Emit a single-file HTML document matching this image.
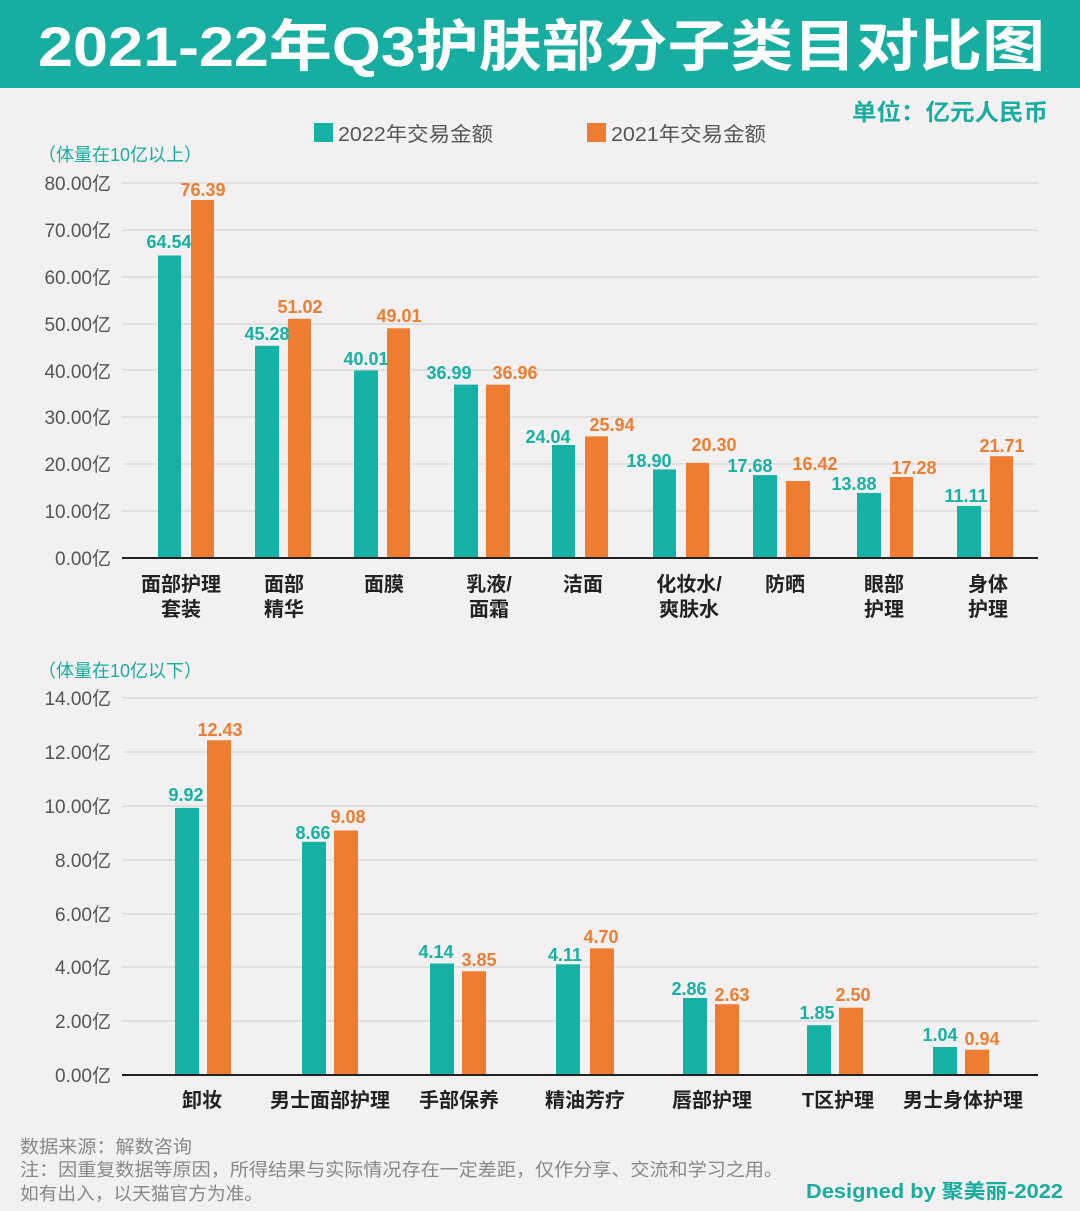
<!DOCTYPE html>
<html><head><meta charset="utf-8"><style>
body{margin:0;background:#f2f0f0;}
svg{display:block;font-family:"Liberation Sans","Noto Sans CJK SC",sans-serif;}
</style></head><body>
<svg width="1080" height="1211" viewBox="0 0 1080 1211" xmlns="http://www.w3.org/2000/svg">
<rect width="1080" height="1211" fill="#f2f0f0"/>
<rect width="1080" height="88" fill="#17ada0"/>
<text x="38" y="66" font-size="56" font-weight="bold" fill="#fff" textLength="1007" lengthAdjust="spacingAndGlyphs">2021-22年Q3护肤部分子类目对比图</text>
<text x="852" y="120" font-size="23" font-weight="bold" fill="#17ada0" textLength="196" lengthAdjust="spacingAndGlyphs">单位：亿元人民币</text>
<rect x="314" y="123" width="19" height="19" fill="#14b1a4"/>
<text x="338" y="141" font-size="20" fill="#555" textLength="155" lengthAdjust="spacingAndGlyphs">2022年交易金额</text>
<rect x="587" y="123" width="19" height="19" fill="#ee7d31"/>
<text x="611" y="141" font-size="20" fill="#555" textLength="155" lengthAdjust="spacingAndGlyphs">2021年交易金额</text>
<text x="38" y="161" font-size="18" fill="#17ada0">（体量在10亿以上）</text>
<text x="38" y="677" font-size="18" fill="#17ada0">（体量在10亿以下）</text>
<g font-size="19" fill="#555" text-anchor="end">
<text x="111" y="190">80.00亿</text><text x="111" y="237">70.00亿</text><text x="111" y="284">60.00亿</text><text x="111" y="331">50.00亿</text><text x="111" y="378">40.00亿</text><text x="111" y="424">30.00亿</text><text x="111" y="471">20.00亿</text><text x="111" y="518">10.00亿</text><text x="111" y="565">0.00亿</text>
</g>
<g stroke="#d0d0d0" stroke-width="1">
<line x1="122" x2="1038" y1="183" y2="183"/><line x1="122" x2="1038" y1="230" y2="230"/><line x1="122" x2="1038" y1="277" y2="277"/><line x1="122" x2="1038" y1="324" y2="324"/><line x1="122" x2="1038" y1="370" y2="370"/><line x1="122" x2="1038" y1="417" y2="417"/><line x1="122" x2="1038" y1="464" y2="464"/><line x1="122" x2="1038" y1="511" y2="511"/>
<line x1="122" x2="1038" y1="698" y2="698"/><line x1="122" x2="1038" y1="752" y2="752"/><line x1="122" x2="1038" y1="806" y2="806"/><line x1="122" x2="1038" y1="860" y2="860"/><line x1="122" x2="1038" y1="914" y2="914"/><line x1="122" x2="1038" y1="967" y2="967"/><line x1="122" x2="1038" y1="1021" y2="1021"/>
</g>
<g font-size="19" fill="#555" text-anchor="end">
<text x="111" y="705">14.00亿</text><text x="111" y="759">12.00亿</text><text x="111" y="813">10.00亿</text><text x="111" y="867">8.00亿</text><text x="111" y="921">6.00亿</text><text x="111" y="974">4.00亿</text><text x="111" y="1028">2.00亿</text><text x="111" y="1082">0.00亿</text>
</g>
<g font-size="18" font-weight="bold" text-anchor="middle">
<rect x="158" y="255.5" width="23" height="302.5" fill="#14b1a4"/><rect x="191" y="200" width="23" height="358" fill="#ee7d31"/>
<text x="169" y="248" fill="#14b1a4">64.54</text><text x="203" y="196" fill="#ee7d31">76.39</text>
<rect x="255" y="345.8" width="24" height="212.2" fill="#14b1a4"/><rect x="288" y="318.8" width="23" height="239.2" fill="#ee7d31"/>
<text x="267" y="340" fill="#14b1a4">45.28</text><text x="300" y="313" fill="#ee7d31">51.02</text>
<rect x="354" y="370.5" width="24" height="187.5" fill="#14b1a4"/><rect x="387" y="328.3" width="23" height="229.7" fill="#ee7d31"/>
<text x="366" y="365" fill="#14b1a4">40.01</text><text x="399" y="322" fill="#ee7d31">49.01</text>
<rect x="454" y="384.6" width="24" height="173.4" fill="#14b1a4"/><rect x="486" y="384.7" width="24" height="173.3" fill="#ee7d31"/>
<text x="449" y="379" fill="#14b1a4">36.99</text><text x="515" y="379" fill="#ee7d31">36.96</text>
<rect x="552" y="445" width="23" height="113" fill="#14b1a4"/><rect x="585" y="436.4" width="23" height="121.6" fill="#ee7d31"/>
<text x="548" y="443" fill="#14b1a4">24.04</text><text x="612" y="431" fill="#ee7d31">25.94</text>
<rect x="653" y="469.4" width="23" height="88.6" fill="#14b1a4"/><rect x="686" y="462.8" width="23" height="95.2" fill="#ee7d31"/>
<text x="649" y="467" fill="#14b1a4">18.90</text><text x="714" y="451" fill="#ee7d31">20.30</text>
<rect x="753" y="475.1" width="24" height="82.9" fill="#14b1a4"/><rect x="786" y="481" width="24" height="77" fill="#ee7d31"/>
<text x="750" y="472" fill="#14b1a4">17.68</text><text x="815" y="470" fill="#ee7d31">16.42</text>
<rect x="857" y="492.9" width="24" height="65.1" fill="#14b1a4"/><rect x="890" y="477" width="23" height="81" fill="#ee7d31"/>
<text x="854" y="490" fill="#14b1a4">13.88</text><text x="914" y="474" fill="#ee7d31">17.28</text>
<rect x="957" y="505.9" width="24" height="52.1" fill="#14b1a4"/><rect x="990" y="456.2" width="23" height="101.8" fill="#ee7d31"/>
<text x="966" y="502" fill="#14b1a4">11.11</text><text x="1002" y="452" fill="#ee7d31">21.71</text>
</g>
<line x1="122" x2="1038" y1="558" y2="558" stroke="#222" stroke-width="2"/>
<g font-size="20" font-weight="bold" fill="#222" text-anchor="middle">
<text x="181" y="591">面部护理</text><text x="181" y="616">套装</text>
<text x="284" y="591">面部</text><text x="284" y="616">精华</text>
<text x="384" y="591">面膜</text>
<text x="489" y="591">乳液/</text><text x="489" y="616">面霜</text>
<text x="583" y="591">洁面</text>
<text x="689" y="591">化妆水/</text><text x="689" y="616">爽肤水</text>
<text x="785" y="591">防晒</text>
<text x="884" y="591">眼部</text><text x="884" y="616">护理</text>
<text x="988" y="591">身体</text><text x="988" y="616">护理</text>
</g>
<g font-size="18" font-weight="bold" text-anchor="middle">
<rect x="175" y="807.9" width="24" height="267.1" fill="#14b1a4"/><rect x="207" y="740.3" width="24" height="334.7" fill="#ee7d31"/>
<text x="186" y="801" fill="#14b1a4">9.92</text><text x="220" y="736" fill="#ee7d31">12.43</text>
<rect x="302" y="841.8" width="24" height="233.2" fill="#14b1a4"/><rect x="334" y="830.5" width="24" height="244.5" fill="#ee7d31"/>
<text x="313" y="839" fill="#14b1a4">8.66</text><text x="348" y="823" fill="#ee7d31">9.08</text>
<rect x="430" y="963.5" width="24" height="111.5" fill="#14b1a4"/><rect x="462" y="971.3" width="24" height="103.7" fill="#ee7d31"/>
<text x="436" y="958" fill="#14b1a4">4.14</text><text x="479" y="966" fill="#ee7d31">3.85</text>
<rect x="556" y="964.3" width="24" height="110.7" fill="#14b1a4"/><rect x="590" y="948.4" width="24" height="126.6" fill="#ee7d31"/>
<text x="565" y="961" fill="#14b1a4">4.11</text><text x="601" y="943" fill="#ee7d31">4.70</text>
<rect x="683" y="998" width="24" height="77" fill="#14b1a4"/><rect x="715" y="1004.2" width="24" height="70.8" fill="#ee7d31"/>
<text x="689" y="995" fill="#14b1a4">2.86</text><text x="732" y="1001" fill="#ee7d31">2.63</text>
<rect x="807" y="1025.2" width="24" height="49.8" fill="#14b1a4"/><rect x="839" y="1007.7" width="24" height="67.3" fill="#ee7d31"/>
<text x="817" y="1019" fill="#14b1a4">1.85</text><text x="853" y="1001" fill="#ee7d31">2.50</text>
<rect x="933" y="1047" width="24" height="28" fill="#14b1a4"/><rect x="965" y="1049.7" width="24" height="25.3" fill="#ee7d31"/>
<text x="940" y="1041" fill="#14b1a4">1.04</text><text x="982" y="1045" fill="#ee7d31">0.94</text>
</g>
<line x1="122" x2="1038" y1="1075" y2="1075" stroke="#222" stroke-width="2"/>
<g font-size="20" font-weight="bold" fill="#222" text-anchor="middle">
<text x="202" y="1107">卸妆</text><text x="330" y="1107">男士面部护理</text><text x="459" y="1107">手部保养</text><text x="585" y="1107">精油芳疗</text><text x="712" y="1107">唇部护理</text><text x="838" y="1107">T区护理</text><text x="963" y="1107">男士身体护理</text>
</g>
<g font-size="18" fill="#888">
<text x="20" y="1153" textLength="172" lengthAdjust="spacingAndGlyphs">数据来源：解数咨询</text>
<text x="20" y="1176" textLength="763" lengthAdjust="spacingAndGlyphs">注：因重复数据等原因，所得结果与实际情况存在一定差距，仅作分享、交流和学习之用。</text>
<text x="20" y="1200" textLength="243" lengthAdjust="spacingAndGlyphs">如有出入，以天猫官方为准。</text>
</g>
<text x="806" y="1198" font-size="20" font-weight="bold" fill="#17ada0" textLength="257" lengthAdjust="spacingAndGlyphs">Designed by 聚美丽-2022</text>
</svg>
</body></html>
